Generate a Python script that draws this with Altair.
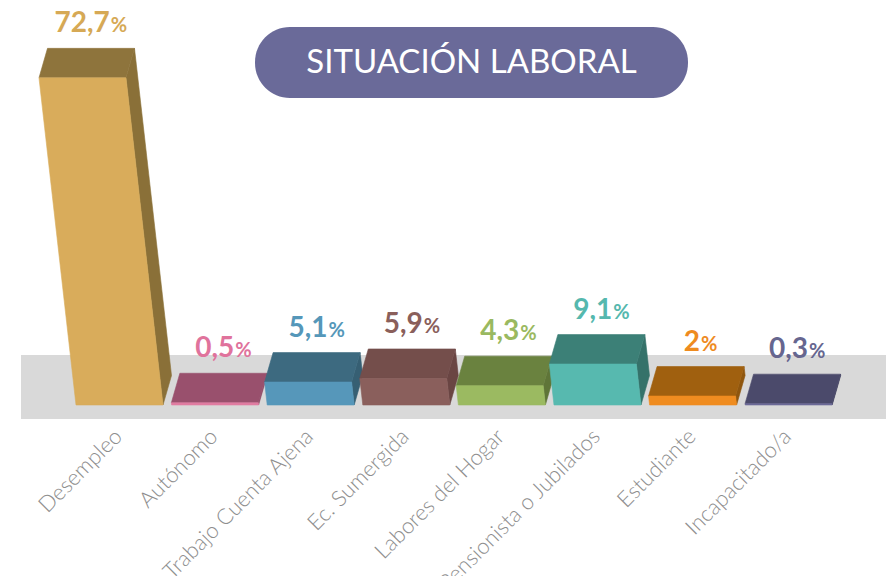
import altair as alt
import pandas as pd

# ---------------- data ----------------
categories = ["Desempleo", "Autónomo", "Trabajo Cuenta Ajena", "Ec. Sumergida",
              "Labores del Hogar", "Pensionista o Jubilados", "Estudiante", "Incapacitado/a"]
values = [72.7, 0.5, 5.1, 5.9, 4.3, 9.1, 2.0, 0.3]
value_labels = ["72,7", "0,5", "5,1", "5,9", "4,3", "9,1", "2", "0,3"]

front_colors = ["#D9AC5B", "#E07CA1", "#5697BA", "#8A5F5C", "#9BBA61", "#57B9AF", "#EF8C20", "#6B6A97"]
top_colors = ["#8E743C", "#99506D", "#3D6A80", "#744E4B", "#6A823F", "#3C8077", "#A0600F", "#4B4A6B"]
side_colors = ["#8A7038", "#8E4865", "#365F73", "#6A4543", "#5F7538", "#35726A", "#8F560E", "#42425F"]
label_colors = ["#D6A955", "#E0739C", "#5597B9", "#8A5F5B", "#9AB960", "#55B8AE", "#EE8B1F", "#66668F"]

# ---------------- geometry (style constants) ----------------
PX_X = 95.6          # pixels per category step
PX_Y = 4.5           # pixels per value unit
HW = 43.5 / PX_X     # half bar width
SKEW = 8.5 / PX_X    # top-face skew
DEPTH = 29.5 / PX_Y  # top-face depth
LEAN = 0.509 / PX_X  # lean of the front face per value unit

W, H = 878, 568
X0_PX = 111.5        # view x of first category
Y0_PX = 397          # view y of baseline
x_dom = [-X0_PX / PX_X, (W - X0_PX) / PX_X]
y_dom = [-(H - Y0_PX) / PX_Y, Y0_PX / PX_Y]

front_rows, top_rows, side_rows = [], [], []
for i, v in enumerate(values):
    L0, R0 = i - HW, i + HW
    Lv, Rv = L0 - LEAN * v, R0 - LEAN * v
    front = [(L0, 0), (R0, 0), (Rv, v), (Lv, v)]
    top = [(Lv, v), (Rv, v), (Rv + SKEW, v + DEPTH), (Lv + SKEW, v + DEPTH)]
    side = [(R0, 0), (Rv, v), (Rv + SKEW, v + DEPTH), (R0 + SKEW, DEPTH)]
    for shape, rows, col in ((front, front_rows, front_colors[i]),
                             (top, top_rows, top_colors[i]),
                             (side, side_rows, side_colors[i])):
        for k, (xx, yy) in enumerate(shape + [shape[0]]):
            rows.append({"sid": i, "k": k, "x": xx, "y": yy, "col": col})

df_front = pd.DataFrame(front_rows)
df_top = pd.DataFrame(top_rows)
df_side = pd.DataFrame(side_rows)

# value labels
lab_rows = []
for i, (v, t) in enumerate(zip(values, value_labels)):
    cx = i - LEAN * v + SKEW
    numw = sum(7.5 if ch == "," else 15.5 for ch in t)
    pw = 16.5
    anchor = cx + (numw - pw) / 2 / PX_X
    lab_rows.append({"x": anchor, "y": v + DEPTH, "num": t, "pct": "%", "col": label_colors[i]})
df_lab = pd.DataFrame(lab_rows)

df_cat = pd.DataFrame({"x": [i - 1 / PX_X for i in range(len(categories))],
                       "y": [-28 / PX_Y] * len(categories),
                       "cat": categories})

xs = alt.Scale(domain=x_dom, nice=False, zero=False)
ys = alt.Scale(domain=y_dom, nice=False, zero=False)

band = alt.Chart(pd.DataFrame({"a": [0]})).mark_rect(color="#D9D9D9").encode(
    x=alt.value(13), x2=alt.value(W), y=alt.value(347), y2=alt.value(411))


def face(df):
    return alt.Chart(df).mark_line(strokeWidth=0.6, interpolate="linear").encode(
        x=alt.X("x:Q", scale=xs, axis=None),
        y=alt.Y("y:Q", scale=ys, axis=None),
        detail="sid:N",
        order="k:Q",
        fill=alt.Fill("col:N", scale=None),
        stroke=alt.Stroke("col:N", scale=None),
    )


num_text = alt.Chart(df_lab).mark_text(
    align="right", baseline="alphabetic", dy=-16, fontSize=28, fontWeight="bold", font="Lato"
).encode(x=alt.X("x:Q", scale=xs, axis=None), y=alt.Y("y:Q", scale=ys, axis=None),
         text="num:N", color=alt.Color("col:N", scale=None))

pct_text = alt.Chart(df_lab).mark_text(
    align="left", baseline="alphabetic", dy=-16, dx=1, fontSize=20, fontWeight="bold", font="Lato"
).encode(x=alt.X("x:Q", scale=xs, axis=None), y=alt.Y("y:Q", scale=ys, axis=None),
         text="pct:N", color=alt.Color("col:N", scale=None))

cat_text = alt.Chart(df_cat).mark_text(
    align="right", baseline="middle", angle=315, fontSize=22, fontWeight=300,
    font="Lato", color="#8E8E8E"
).encode(x=alt.X("x:Q", scale=xs, axis=None), y=alt.Y("y:Q", scale=ys, axis=None), text="cat:N")

pill = alt.Chart(pd.DataFrame({"a": [0]})).mark_rect(color="#6A6A99", cornerRadius=35).encode(
    x=alt.value(247), x2=alt.value(680), y=alt.value(19), y2=alt.value(90))

title = alt.Chart(pd.DataFrame({"t": ["SITUACIÓN LABORAL"]})).mark_text(
    align="center", baseline="middle", fontSize=33, font="Lato", color="white"
).encode(x=alt.value(463.5), y=alt.value(55), text="t:N")

chart = alt.layer(band, face(df_side), face(df_top), face(df_front),
                  num_text, pct_text, cat_text, pill, title).properties(
    width=W, height=H, autosize=alt.AutoSizeParams(type="none"), padding=0
).configure_view(stroke=None)

chart.save("out.html", embed_options={"renderer": "svg", "actions": False})
